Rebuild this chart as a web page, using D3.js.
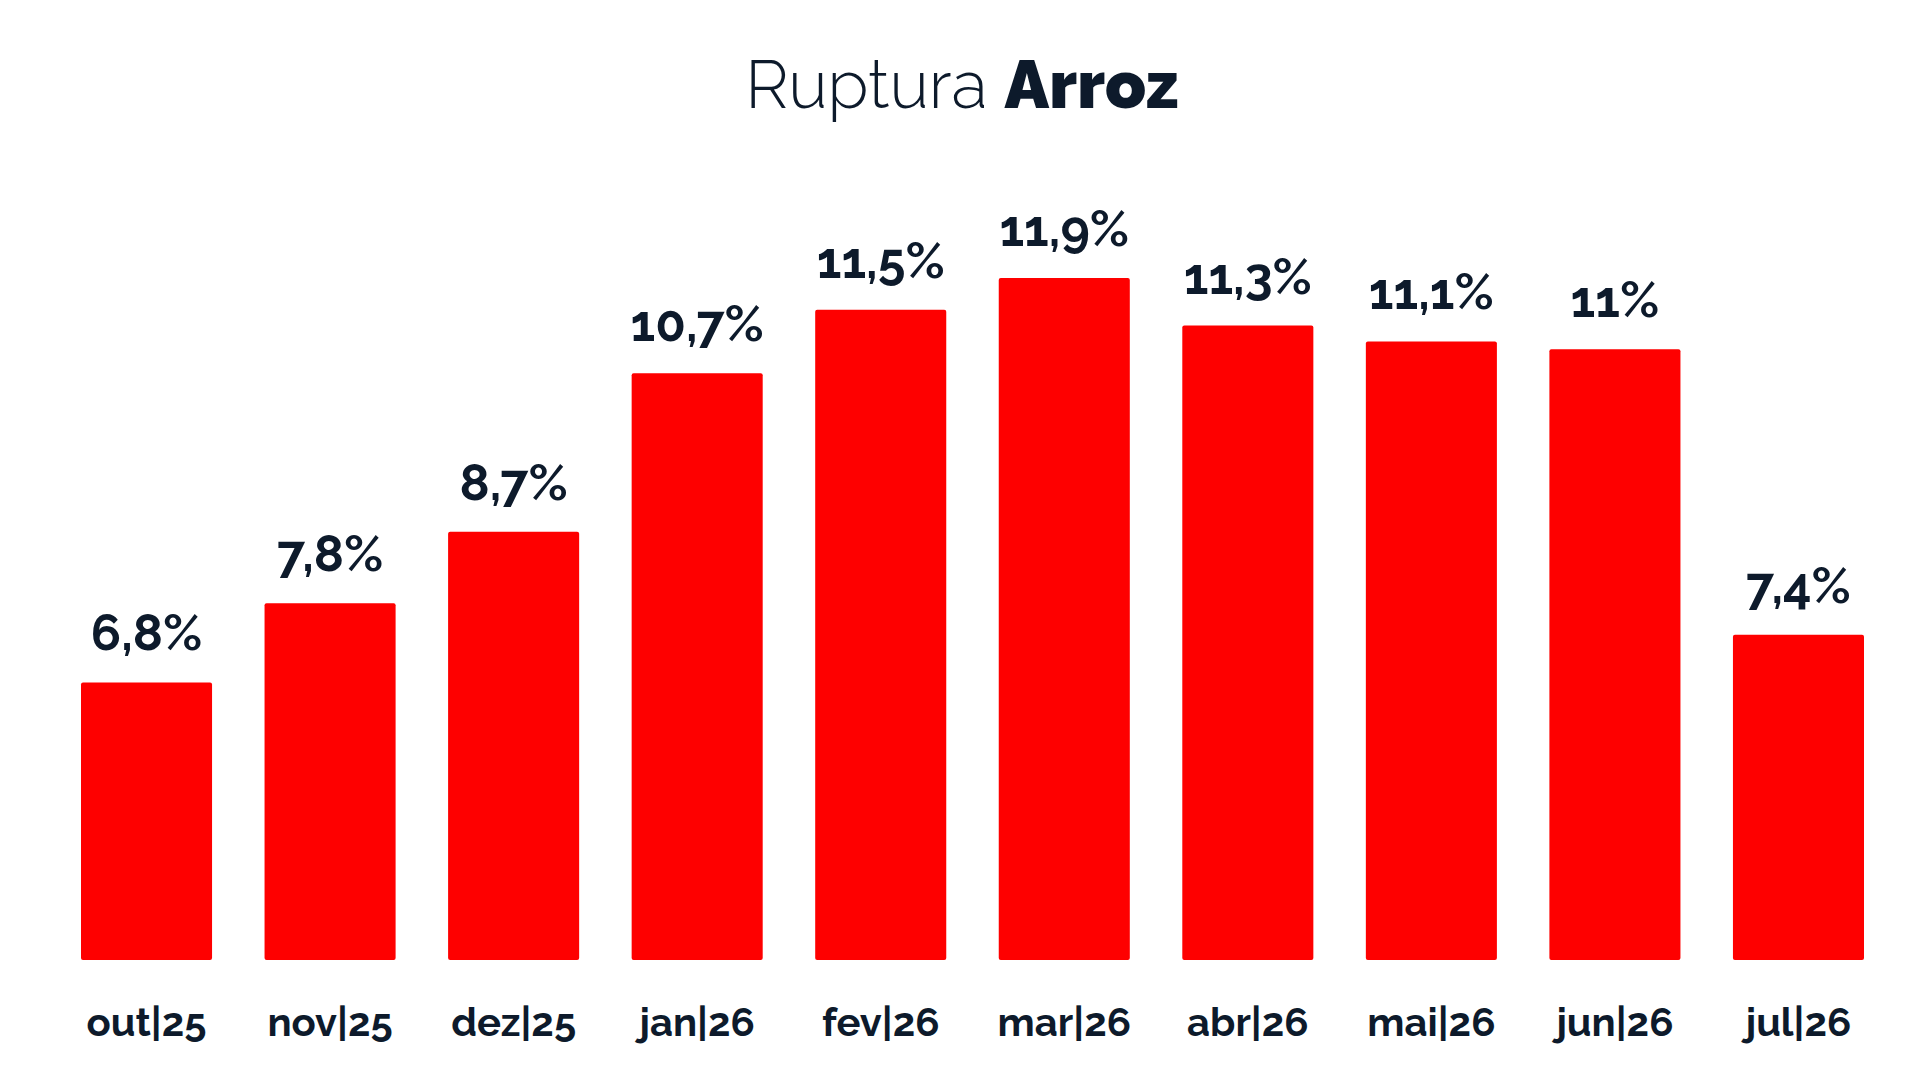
<!DOCTYPE html>
<html>
<head>
<meta charset="utf-8">
<script src="https://cdn.jsdelivr.net/npm/d3@7"></script>
<style>
  html, body { margin: 0; padding: 0; background: #ffffff; }
  svg { display: block; }
  text { font-family: Raleway, Lato, "Open Sans", sans-serif; }
</style>
</head>
<body>
<svg id="chart" width="1920" height="1080"></svg>
<script>
const categories = ["out|25", "nov|25", "dez|25", "jan|26", "fev|26", "mar|26", "abr|26", "mai|26", "jun|26", "jul|26"];
const values = [6.8, 7.8, 8.7, 10.7, 11.5, 11.9, 11.3, 11.1, 11.0, 7.4];
const valueLabels = ["6,8%", "7,8%", "8,7%", "10,7%", "11,5%", "11,9%", "11,3%", "11,1%", "11%", "7,4%"];
const titleLight = "Ruptura";
const titleBold = "Arroz";

const W = 1920, H = 1080;
const svg = d3.select("#chart");
const textColor = "#0d1a2b";
const barColor = "#fe0000";

const x = d3.scaleBand()
  .domain(categories)
  .range([81, 1864])
  .paddingInner(0.286)
  .paddingOuter(0);

const y = d3.scaleLinear()
  .domain([3.3, 11.9])
  .range([960, 278]);

// Title
const title = svg.append("text")
  .attr("x", 962)
  .attr("y", 108)
  .attr("text-anchor", "middle")
  .attr("font-size", 67)
  .attr("fill", textColor);
title.append("tspan").attr("font-weight", 300).text(titleLight + " ");
title.append("tspan").attr("font-weight", 900).text(titleBold);

// Bars
svg.append("g").selectAll("rect")
  .data(values)
  .join("rect")
  .attr("x", (d, i) => x(categories[i]))
  .attr("y", d => y(d))
  .attr("width", x.bandwidth())
  .attr("height", d => y.range()[0] - y(d))
  .attr("rx", 2)
  .attr("fill", barColor);

// Value labels
svg.append("g").selectAll("text")
  .data(values)
  .join("text")
  .attr("x", (d, i) => x(categories[i]) + x.bandwidth() / 2)
  .attr("y", d => y(d) - 32)
  .attr("text-anchor", "middle")
  .attr("font-size", 50)
  .attr("font-weight", 700)
  .attr("fill", textColor)
  .text((d, i) => valueLabels[i]);

// Category axis (labels only)
const axis = svg.append("g")
  .attr("transform", `translate(0, 960)`)
  .call(d3.axisBottom(x).tickSize(0).tickPadding(0));
axis.select(".domain").remove();
axis.selectAll("text")
  .attr("y", 76)
  .attr("dy", 0)
  .attr("font-size", 40)
  .attr("font-weight", 700)
  .attr("fill", textColor)
  .style("font-family", "Raleway, Lato, 'Open Sans', sans-serif");
</script>
</body>
</html>
